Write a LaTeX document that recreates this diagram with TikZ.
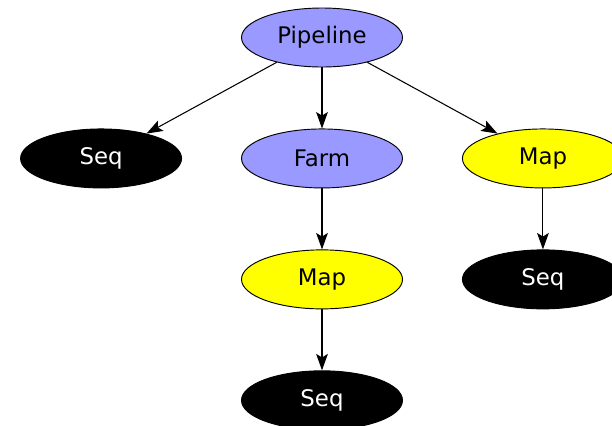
\documentclass[tikz,border=0pt]{standalone}
\usepackage{fontspec}
\setmainfont{DejaVu Sans}
\usepackage{xcolor}
\usetikzlibrary{positioning,arrows.meta,shapes.geometric}
\definecolor{skelblue}{RGB}{153,153,255}
\definecolor{skelyellow}{RGB}{255,255,0}

\begin{document}
\begin{tikzpicture}[
  node distance=1.83cm and 1.77cm,
  skel/.style={draw, ellipse, line width=0.8pt, inner sep=0pt, minimum width=4.83cm, minimum height=1.77cm,
    font=\fontsize{19.5}{22}\selectfont},
  pipe/.style={skel, fill=skelblue},
  mapper/.style={skel, fill=skelyellow},
  seq/.style={skel, fill=black, text=white},
  flow/.style={-{Stealth[length=14pt,width=10pt,inset=3pt]}, line width=0.9pt}
]
\useasboundingbox (0,0) rectangle (18.36,-12.75);
\node[pipe] (pipeline) at (9.66,-1.125) {Pipeline};
\node[pipe, below=of pipeline] (farm) {Farm};
\node[seq, left=of farm] (seqleft) {Seq};
\node[mapper, right=of farm] (mapright) {Map};
\node[mapper, below=of farm] (mapmid) {Map};
\node[seq, below=of mapmid] (seqbottom) {Seq};
\node[seq, below=of mapright] (seqright) {Seq};

\draw[flow] (pipeline) -- (seqleft);
\draw[flow] (pipeline) -- (farm);
\draw[flow] (pipeline) -- (mapright);
\draw[flow] (farm) -- (mapmid);
\draw[flow] (mapmid) -- (seqbottom);
\draw[flow] (mapright) -- (seqright);
\end{tikzpicture}
\end{document}
